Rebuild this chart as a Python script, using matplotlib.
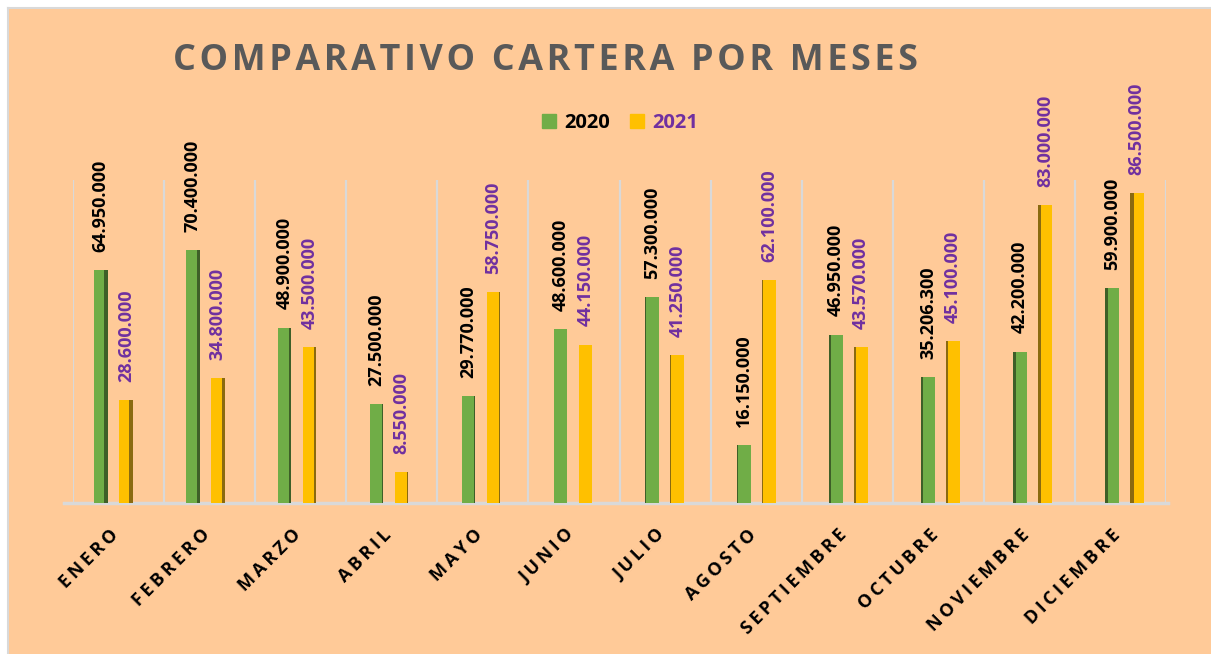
import matplotlib.pyplot as plt
import matplotlib.patches as mpatches
from matplotlib.lines import Line2D
from matplotlib.transforms import ScaledTranslation
import numpy as np

plt.rcParams['font.family'] = ['Open Sans', 'DejaVu Sans']
plt.rcParams['font.weight'] = 'bold'

meses = ['ENERO', 'FEBRERO', 'MARZO', 'ABRIL', 'MAYO', 'JUNIO', 'JULIO',
         'AGOSTO', 'SEPTIEMBRE', 'OCTUBRE', 'NOVIEMBRE', 'DICIEMBRE']
v2020 = [64950000, 70400000, 48900000, 27500000, 29770000, 48600000,
         57300000, 16150000, 46950000, 35206300, 42200000, 59900000]
v2021 = [28600000, 34800000, 43500000, 8550000, 58750000, 44150000,
         41250000, 62100000, 43570000, 45100000, 83000000, 86500000]

PEACH = '#FFCA98'
GREEN, GREEN_D = '#70AD47', '#3E5F28'
YELLOW, YELLOW_D = '#FFC000', '#8A6A10'
PURPLE = '#7030A0'
GRID = '#D9D9D9'


def fmt(v):
    return f'{v:,.0f}'.replace(',', '.')


def spaced(s, sep='\u200a'):
    # Excel usa espaciado entre letras; se imita con espacios finos
    return sep.join(s)


W, H = 1211, 654
fig = plt.figure(figsize=(W / 100, H / 100), dpi=100)
fig.patch.set_facecolor('white')
fig.patches.append(mpatches.Rectangle((8 / W, -0.1), 1.2, 1 - 8 / H + 0.1,
                                      transform=fig.transFigure, facecolor=PEACH,
                                      edgecolor='none', zorder=-10))
# borde gris arriba e izquierda
fig.add_artist(Line2D([8 / W, 8 / W], [0, 1 - 8 / H], transform=fig.transFigure,
                      color=GRID, lw=1.5))
fig.add_artist(Line2D([8 / W, 1], [1 - 8 / H, 1 - 8 / H], transform=fig.transFigure,
                      color=GRID, lw=1.5))

ax = fig.add_axes([73 / W, 1 - 503 / H, 1093 / W, (503 - 180) / H])
ax.set_facecolor('none')
ax.set_xlim(-0.5, 11.5)
ax.set_ylim(0, 90e6)
for s in ax.spines.values():
    s.set_visible(False)
ax.set_yticks([])

# separadores verticales y piso
for xb in np.arange(-0.5, 12, 1):
    ax.axvline(xb, color=GRID, lw=1.6, zorder=0)
ax.plot([-0.6, 11.52], [0, 0], color=GRID, lw=2.5, clip_on=False, zorder=1)

x = np.arange(len(meses))
bw = 0.15
for i in x:
    g0 = -0.27 + 0.0091 * i
    y0 = g0 + 0.275
    side = 0.007 * abs(i - 5.5)
    for left, val, c, cd, lab_c in [(g0, v2020[i], GREEN, GREEN_D, 'black'),
                                    (y0, v2021[i], YELLOW, YELLOW_D, PURPLE)]:
        xl = i + left
        ax.bar(xl, val, width=bw, align='edge', color=c, zorder=3)
        if i < 5.5:
            ax.bar(xl + bw - side, val, width=side, align='edge', color=cd, zorder=4)
        else:
            ax.bar(xl, val, width=side, align='edge', color=cd, zorder=4)
        ax.annotate(fmt(val), (xl + bw / 2, val), xytext=(0, 13),
                    textcoords='offset points', rotation=90, ha='center',
                    va='bottom', fontsize=13, fontweight='bold', color=lab_c,
                    zorder=5)

ax.set_xticks(x)
ax.set_xticklabels([spaced(m, '\u200a\u200a') for m in meses], rotation=45,
                   ha='right', va='center', rotation_mode='anchor', fontsize=13,
                   fontweight='bold')
ax.tick_params(axis='x', length=0, pad=21)
for lab in ax.get_xticklabels():
    lab.set_transform(lab.get_transform() +
                      ScaledTranslation(-3 / 100, 0, fig.dpi_scale_trans))

fig.text(173 / W, 1 - 61 / H, spaced('COMPARATIVO CARTERA POR MESES'),
         ha='left', va='center', fontsize=25.8, fontweight='bold',
         color='#595959')

handles = [mpatches.Patch(color=GREEN), mpatches.Patch(color=YELLOW)]
leg = fig.legend(handles, ['2020', '2021'], loc='center',
                 bbox_to_anchor=(620 / W, 1 - 123 / H), ncol=2, frameon=False,
                 prop={'size': 14.5, 'weight': 'bold'}, handlelength=0.7,
                 handleheight=0.7, handletextpad=0.4, columnspacing=1.0)
leg.get_texts()[0].set_color('black')
leg.get_texts()[1].set_color(PURPLE)

fig.savefig('out.png', dpi=100, facecolor=fig.get_facecolor())
